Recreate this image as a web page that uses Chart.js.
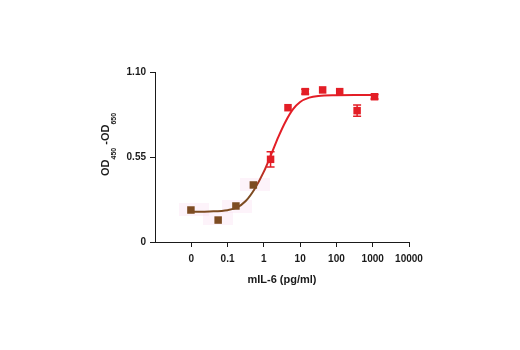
<!DOCTYPE html>
<html>
<head>
<meta charset="utf-8">
<script src="https://cdn.jsdelivr.net/npm/chart.js@4"></script>
<style>
  html, body { margin: 0; padding: 0; background: #fff; }
  #wrap { width: 520px; height: 350px; }
</style>
</head>
<body>
<div id="wrap"><canvas id="doseChart" width="520" height="350"></canvas></div>
<script>
// Data (x in log10 pg/ml, "0" is drawn at the 0.01 position)
const tickPositions = [-2, -1, 0, 1, 2, 3, 4];
const tickLabels = ['0', '0.1', '1', '10', '100', '1000', '10000'];
const yTicks = [0, 0.55, 1.10];
const yTickLabels = ['0', '0.55', '1.10'];

const pointX = [-2.01, -1.26, -0.77, -0.29, 0.185, 0.665, 1.14, 1.62, 2.09, 2.57, 3.05];
const pointY = [0.207, 0.142, 0.233, 0.369, 0.535, 0.869, 0.973, 0.984, 0.973, 0.850, 0.940];
const pointErr = [0, 0, 0, 0, 0.049, 0, 0.015, 0, 0, 0.037, 0.015];
const pointColors = ['#7d4c22', '#7d4c22', '#7d4c22', '#7d4c22',
  '#e31e26', '#e31e26', '#e31e26', '#e31e26', '#e31e26', '#e31e26', '#e31e26'];

// faint pink boxes behind the low points
const haloX = [-1.93, -1.26, -0.73, -0.25];
const haloY = [0.212, 0.150, 0.230, 0.375];

// fitted curve
const curveX = [-2, -1.5, -1, -0.75, -0.5, -0.25, 0, 0.2, 0.4, 0.6, 0.8, 1.0, 1.25, 1.5, 2, 2.5, 3.05];
const curveY = [0.196, 0.198, 0.206, 0.222, 0.265, 0.345, 0.455, 0.565, 0.680, 0.780, 0.858, 0.906, 0.934, 0.945, 0.950, 0.951, 0.951];

const BROWN = '#7d4c22';
const RED = '#e31e26';
const INK = '#1a1a1a';

function toXY(xs, ys) {
    return xs.map((x, i) => ({ x: x, y: ys[i] }));
}

// wide pale rectangle used as point style for the halos
const haloCanvas = document.createElement('canvas');
haloCanvas.width = 30;
haloCanvas.height = 13;
const hctx = haloCanvas.getContext('2d');
hctx.fillStyle = 'rgba(250, 215, 240, 0.3)';
hctx.fillRect(0, 0, 30, 13);

function curveGradient(context) {
    const chart = context.chart;
    const area = chart.chartArea;
    if (!area) return RED;
    const xs = chart.scales.x;
    const x0 = xs.getPixelForValue(-0.3);
    const x1 = xs.getPixelForValue(0.15);
    const g = chart.ctx.createLinearGradient(x0, 0, x1, 0);
    g.addColorStop(0, BROWN);
    g.addColorStop(1, RED);
    return g;
}

// error bars drawn through the scales
const errorBars = {
    id: 'errorBars',
    afterDatasetsDraw(chart) {
        const ctx = chart.ctx;
        const xs = chart.scales.x, ys = chart.scales.y;
        ctx.save();
        ctx.lineWidth = 1.5;
        pointX.forEach((x, i) => {
            if (!pointErr[i]) return;
            const px = xs.getPixelForValue(x);
            const top = ys.getPixelForValue(pointY[i] + pointErr[i]);
            const bot = ys.getPixelForValue(pointY[i] - pointErr[i]);
            ctx.strokeStyle = pointColors[i];
            ctx.beginPath();
            ctx.moveTo(px, top); ctx.lineTo(px, bot);
            ctx.moveTo(px - 4, top); ctx.lineTo(px + 4, top);
            ctx.moveTo(px - 4, bot); ctx.lineTo(px + 4, bot);
            ctx.stroke();
        });
        ctx.restore();
    }
};

// axis titles (y title has subscripts)
const axisTitles = {
    id: 'axisTitles',
    afterDraw(chart) {
        const ctx = chart.ctx;
        const area = chart.chartArea;
        ctx.save();
        ctx.fillStyle = INK;
        ctx.font = 'bold 11px "Liberation Sans", Arial, sans-serif';
        ctx.textAlign = 'center';
        ctx.textBaseline = 'middle';
        ctx.fillText('mIL-6 (pg/ml)', (area.left + area.right) / 2, 280);

        ctx.translate(109, 176);
        ctx.rotate(-Math.PI / 2);
        ctx.textAlign = 'left';
        ctx.textBaseline = 'alphabetic';
        const big = 'bold 11px "Liberation Sans", Arial, sans-serif';
        const small = 'bold 7px "Liberation Sans", Arial, sans-serif';
        let x = 0;
        ctx.font = big; ctx.fillText('OD', x, 0); x += ctx.measureText('OD').width;
        ctx.font = small; ctx.fillText('450', x, 7); x += ctx.measureText('450').width;
        ctx.font = big; ctx.fillText(' -OD', x, 0); x += ctx.measureText(' -OD').width;
        ctx.font = small; ctx.fillText('650', x, 7);
        ctx.restore();
    }
};

const tickFont = { family: '"Liberation Sans", Arial, sans-serif', size: 10, weight: 'bold' };

new Chart(document.getElementById('doseChart').getContext('2d'), {
    type: 'scatter',
    data: {
        datasets: [
            {
                label: 'halo',
                data: toXY(haloX, haloY),
                pointStyle: haloCanvas,
                order: 3
            },
            {
                type: 'line',
                label: 'fit',
                data: toXY(curveX, curveY),
                borderColor: curveGradient,
                borderWidth: 2,
                pointRadius: 0,
                fill: false,
                cubicInterpolationMode: 'monotone',
                order: 2
            },
            {
                label: 'mIL-6',
                data: toXY(pointX, pointY),
                pointStyle: 'rect',
                pointRadius: 5.3,
                pointBackgroundColor: pointColors,
                pointBorderColor: pointColors,
                pointBorderWidth: 0,
                order: 1
            }
        ]
    },
    options: {
        responsive: false,
        animation: false,
        devicePixelRatio: 1,
        layout: { padding: { left: 0, top: 72, right: 111, bottom: 0 } },
        plugins: { legend: { display: false }, tooltip: { enabled: false } },
        scales: {
            x: {
                type: 'linear',
                min: -3,
                max: 4,
                afterFit: s => { s.height = 108; },
                afterBuildTicks: s => { s.ticks = tickPositions.map(v => ({ value: v })); },
                ticks: {
                    color: INK,
                    font: tickFont,
                    padding: 6,
                    maxRotation: 0,
                    callback: v => tickLabels[tickPositions.indexOf(v)] ?? ''
                },
                grid: { drawOnChartArea: false, tickLength: 5, color: INK, lineWidth: 1 },
                border: { color: INK, width: 1 }
            },
            y: {
                min: 0,
                max: 1.1,
                afterFit: s => { s.width = 155; },
                afterBuildTicks: s => { s.ticks = yTicks.map(v => ({ value: v })); },
                ticks: {
                    color: INK,
                    font: tickFont,
                    padding: 4,
                    callback: v => yTickLabels[yTicks.indexOf(v)] ?? ''
                },
                grid: { drawOnChartArea: false, tickLength: 5, color: INK, lineWidth: 1 },
                border: { color: INK, width: 1 }
            }
        }
    },
    plugins: [errorBars, axisTitles]
});
</script>
</body>
</html>
